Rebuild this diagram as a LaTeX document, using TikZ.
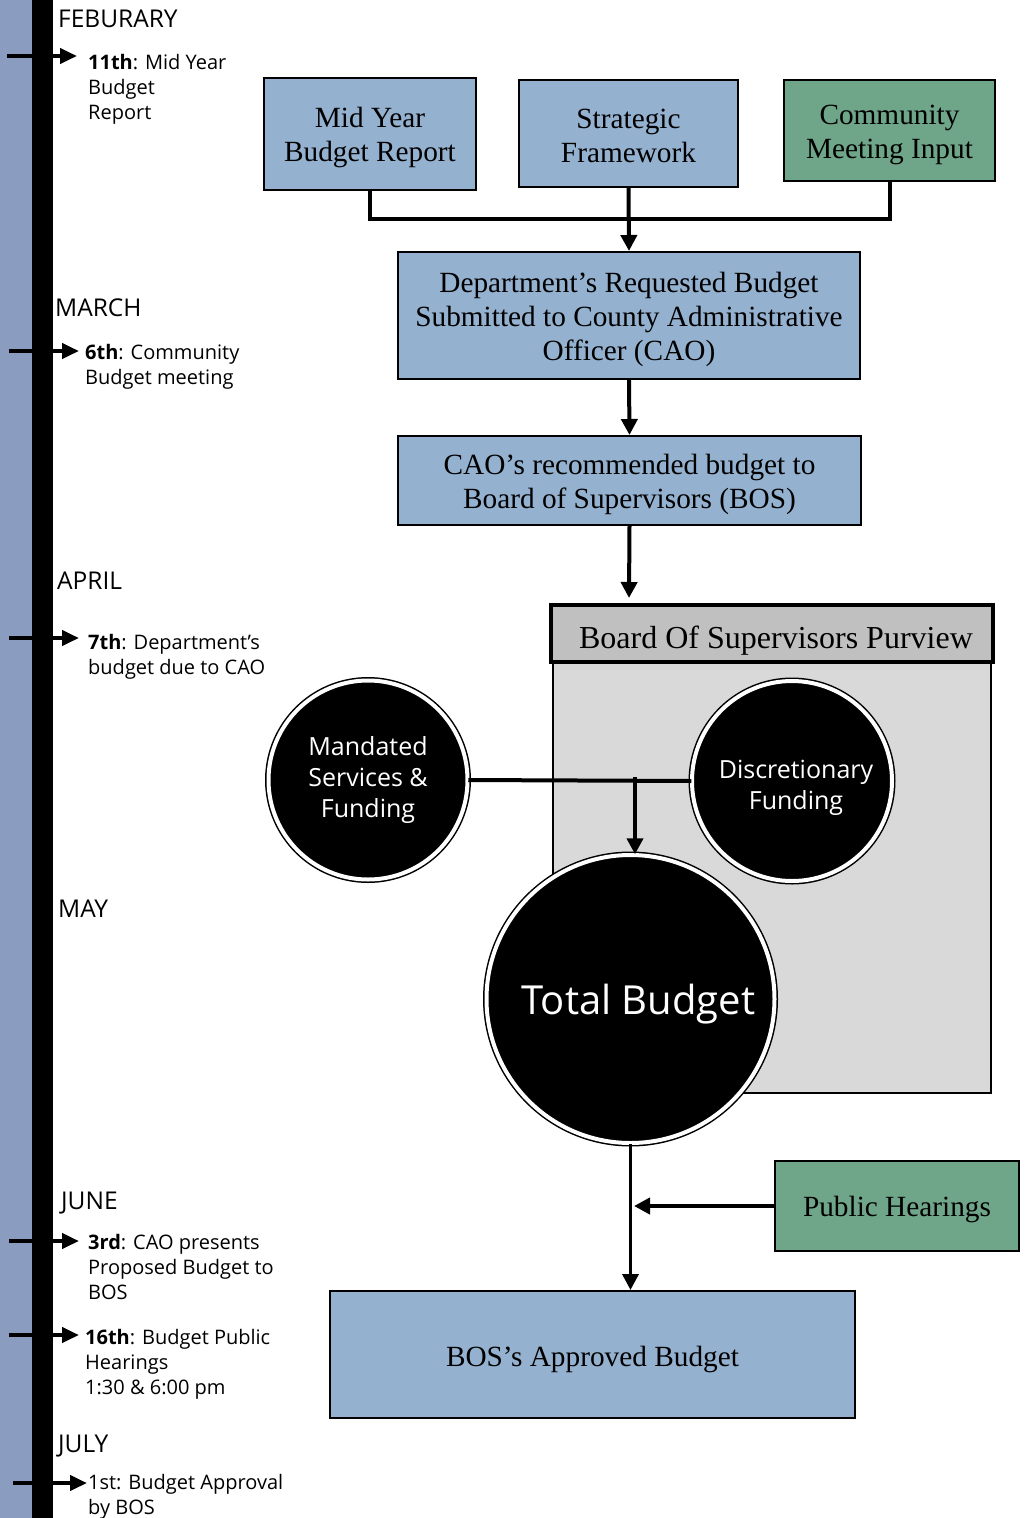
\documentclass[tikz,border=0pt]{standalone}
\usepackage{fontspec}
\setmainfont{Liberation Serif}
\newfontfamily\sansf{Open Sans}
\usetikzlibrary{arrows.meta}
\definecolor{stripblue}{HTML}{8A9CC0}
\definecolor{boxblue}{HTML}{94B1CF}
\definecolor{boxgreen}{HTML}{6FA588}
\definecolor{headgray}{HTML}{C0C0C0}
\definecolor{panelgray}{HTML}{D9D9D9}
\newcommand\mystrut[1]{\rule{0pt}{#1}}
\begin{document}
\begin{tikzpicture}[x=1pt,y=-1pt,
  box/.style={draw=black, line width=2pt, align=center, inner sep=0pt,
    font=\fontsize{29.3}{34}\selectfont},
  bluebox/.style={box, fill=boxblue},
  greenbox/.style={box, fill=boxgreen},
  conn/.style={line width=4pt},
  arr/.style={conn, -{Triangle[length=16pt,width=16pt]}},
  tick/.style={line width=4pt, -{Triangle[length=17pt,width=15pt]}},
  month/.style={anchor=west, inner sep=0pt, font=\sansf\fontsize{24.5}{28}\selectfont},
  ev/.style={anchor=north west, inner sep=0pt, align=left, font=\sansf\fontsize{20}{25}\selectfont},
  circ/.style={circle, fill=black, draw=black, double=white, double distance=4pt,
    line width=1.5pt, inner sep=0pt, text=white, align=center}
]
\useasboundingbox (0,0) rectangle (1027,1518);
% timeline
\fill[stripblue] (0,0) rectangle (32,1518);
\fill[black] (32,0) rectangle (53,1518);

\node[month] (feb) at (58,19) {FEBURARY};
\node[month] (mar) at (55,308) {MARCH};
\node[month] (apr) at (57,581) {APRIL};
\node[month] (may) at (58,909) {MAY};
\node[month] (jun) at (61,1203) {JUNE};
\node[month] (jul) at (58,1446) {JULY};

\coordinate (t1) at (7,56);
\coordinate (t2) at (9,351);
\coordinate (t3) at (9,638);
\coordinate (t4) at (9,1241);
\coordinate (t5) at (9,1335);
\coordinate (t6) at (13,1483);
\draw[tick] (t1) -- ++(70,0);
\draw[tick] (t2) -- ++(70,0);
\draw[tick] (t3) -- ++(70,0);
\draw[tick] (t4) -- ++(70,0);
\draw[tick] (t5) -- ++(70,0);
\draw[tick] (t6) -- ++(74,0);

\node[ev] (e1) at (88,54) {\textbf{11th}: Mid Year\\Budget\\Report};
\node[ev] (e2) at (85,344) {\textbf{6th}: Community\\Budget meeting};
\node[ev] (e3) at (88,634) {\textbf{7th}: Department’s\\budget due to CAO};
\node[ev] (e4) at (88,1234) {\textbf{3rd}: CAO presents\\Proposed Budget to\\BOS};
\node[ev] (e5) at (85,1329) {\textbf{16th}: Budget Public\\Hearings\\1:30 \& 6:00 pm};
\node[ev] (e6) at (88,1474) {1st: Budget Approval\\by BOS};

% top boxes
\node[bluebox, minimum width=212pt, minimum height=112pt] (midyear) at (370,134) {\mystrut{28pt}Mid Year\\Budget Report};
\node[bluebox, minimum width=219pt, minimum height=107pt] (strategic) at (628.5,133.5) {\mystrut{25pt}Strategic\\Framework};
\node[greenbox, minimum width=211pt, minimum height=101pt] (community) at (889.5,130.5) {\mystrut{29pt}Community\\Meeting Input};
\node[bluebox, minimum width=462pt, minimum height=127pt] (dept) at (629,315.5) {\mystrut{29pt}Department’s Requested Budget\\Submitted to County Administrative\\Officer (CAO)};
\node[bluebox, minimum width=463pt, minimum height=89pt] (cao) at (629.5,480.5) {\mystrut{29pt}CAO’s recommended budget to\\Board of Supervisors (BOS)};

\draw[conn] (midyear.south) -- ++(0,28) -| (community.south);
\draw[arr] (strategic.south) -- (dept.north);
\draw[arr] (dept.south) -- (cao.north);
\coordinate (caoend) at (629,598);
\draw[arr] (cao.south) -- (caoend);

% BOS purview
\node[draw=black, line width=1.5pt, fill=panelgray, minimum width=438pt, minimum height=431pt, inner sep=0pt] (panel) at (772,877.5) {};
\node[box, fill=headgray, line width=4.5pt, minimum width=442pt, minimum height=57pt,
  font=\fontsize{32}{36}\selectfont] (purview) at (772,633.5) {\mystrut{36pt}\hspace*{8pt}Board Of Supervisors Purview};

% circles
\coordinate (junc) at (635,777);
\node[circ, minimum size=199pt, font=\sansf\fontsize{25}{31}\selectfont] (mand) at (368,780) {Mandated\\Services \&\\Funding};
\node[circ, minimum size=200pt, font=\sansf\fontsize{25}{31}\selectfont] (disc) at (792,781) {\mystrut{31pt}\hspace*{8pt}Discretionary\\\hspace*{8pt}Funding};
\node[circ, minimum size=288pt, font=\sansf\fontsize{40}{48}\selectfont] (total) at (630.5,999) {\mystrut{40pt}\hspace*{16pt}Total Budget};
\draw[conn] (mand.east) -- (disc.west);
\draw[arr] (junc) -- (junc |- total.north);

% bottom
\node[greenbox, minimum width=244pt, minimum height=90pt] (public) at (897,1206) {\mystrut{27pt}Public Hearings};
\node[bluebox, minimum width=525pt, minimum height=127pt] (approved) at (592.5,1354.5) {\mystrut{30pt}BOS’s Approved Budget};
\coordinate (phend) at (634,1206);
\draw[arr, line width=3.5pt] (total.south) -- (total.south |- approved.north);
\draw[arr] (public.west) -- (phend);
\end{tikzpicture}
\end{document}
